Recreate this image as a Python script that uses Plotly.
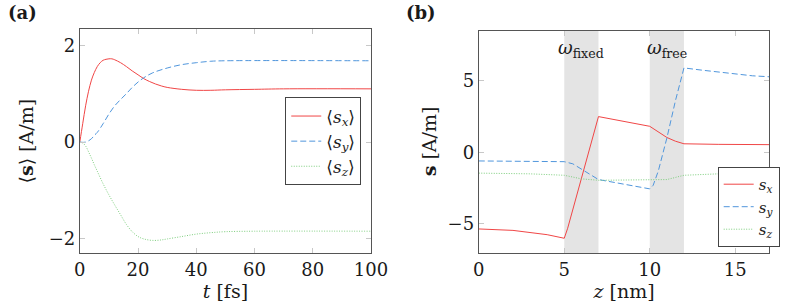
import plotly.graph_objects as go

# ---- panel (a): time evolution ----
t_x = [0, 1, 2, 3, 4, 5, 6, 7, 8, 9, 10, 11, 12, 14, 16, 18, 20, 22, 24, 26, 28, 30, 35, 40, 45, 50, 60, 70, 100]
sx_t = [0, 0.38, 0.75, 1.05, 1.28, 1.44, 1.56, 1.64, 1.69, 1.71, 1.72, 1.72, 1.70, 1.64, 1.56, 1.47, 1.39, 1.31,
        1.25, 1.20, 1.16, 1.13, 1.09, 1.07, 1.07, 1.08, 1.09, 1.10, 1.10]
t_y = [0, 2, 4, 5, 6, 8, 10, 12, 14, 16, 18, 20, 22, 25, 30, 35, 40, 45, 50, 100]
sy_t = [0, 0.0, 0.07, 0.14, 0.20, 0.38, 0.58, 0.75, 0.88, 1.00, 1.13, 1.24, 1.33, 1.43, 1.53, 1.60, 1.64, 1.67, 1.68, 1.68]
t_z = [0, 1, 2, 3, 4, 5, 6, 8, 10, 12, 14, 16, 18, 20, 22, 25, 28, 30, 35, 40, 45, 50, 60, 100]
sz_t = [0, -0.02, -0.08, -0.20, -0.33, -0.47, -0.60, -0.86, -1.09, -1.30, -1.50, -1.70, -1.85, -1.95, -2.00,
        -2.03, -2.02, -2.00, -1.95, -1.90, -1.87, -1.85, -1.84, -1.84]

# ---- panel (b): spatial profile ----
z_x = [0, 2, 4, 5, 5.2, 5.5, 6, 6.5, 7, 10, 10.5, 11, 11.5, 12, 14, 17]
sx_z = [-5.35, -5.45, -5.75, -6.0, -5.3, -4.0, -1.8, 0.4, 2.5, 1.82, 1.4, 1.04, 0.78, 0.6, 0.56, 0.54]
z_y = [0, 3, 5, 5.5, 6, 6.5, 7, 10, 10.2, 10.5, 11, 11.5, 12, 13, 14, 15, 16, 17]
sy_z = [-0.6, -0.62, -0.65, -0.8, -1.15, -1.55, -1.9, -2.55, -2.3, -1.3, 1.0, 3.6, 5.9, 5.75, 5.6, 5.45, 5.35, 5.28]
z_z = [0, 3, 5, 6, 7, 9, 10, 11, 11.5, 12, 14, 17]
sz_z = [-1.45, -1.5, -1.6, -1.85, -1.95, -1.95, -1.95, -1.9, -1.75, -1.6, -1.5, -1.45]

regions = [(5, 7), (10, 12)]
region_labels = ["<i>ω</i><sub>fixed</sub>", "<i>ω</i><sub>free</sub>"]

RED = "rgb(240,70,70)"
BLUE = "rgb(80,150,220)"
GREEN = "rgb(125,205,125)"
FONT = "DejaVu Serif"
TXT = "#1a1a1a"

fig = go.Figure()
fig.add_trace(go.Scatter(x=t_x, y=sx_t, mode="lines", line=dict(color=RED, width=1, shape="spline"),
                         name="⟨<i>s</i><sub><i>x</i></sub>⟩", xaxis="x", yaxis="y", legend="legend"))
fig.add_trace(go.Scatter(x=t_y, y=sy_t, mode="lines", line=dict(color=BLUE, width=1, dash="6px,3px", shape="spline"),
                         name="⟨<i>s</i><sub><i>y</i></sub>⟩", xaxis="x", yaxis="y", legend="legend"))
fig.add_trace(go.Scatter(x=t_z, y=sz_t, mode="lines", line=dict(color=GREEN, width=1, dash="1px,1.5px", shape="spline"),
                         name="⟨<i>s</i><sub><i>z</i></sub>⟩", xaxis="x", yaxis="y", legend="legend"))

fig.add_trace(go.Scatter(x=z_x, y=sx_z, mode="lines", line=dict(color=RED, width=1),
                         name="<i>s</i><sub><i>x</i></sub>", xaxis="x2", yaxis="y2", legend="legend2"))
fig.add_trace(go.Scatter(x=z_y, y=sy_z, mode="lines", line=dict(color=BLUE, width=1, dash="6px,3px"),
                         name="<i>s</i><sub><i>y</i></sub>", xaxis="x2", yaxis="y2", legend="legend2"))
fig.add_trace(go.Scatter(x=z_z, y=sz_z, mode="lines", line=dict(color=GREEN, width=1, dash="1px,1.5px"),
                         name="<i>s</i><sub><i>z</i></sub>", xaxis="x2", yaxis="y2", legend="legend2"))

for (a, b), lab in zip(regions, region_labels):
    fig.add_shape(type="rect", xref="x2", yref="y2 domain", x0=a, x1=b, y0=0, y1=1,
                  fillcolor="#e4e4e4", line=dict(width=0), layer="below")
    fig.add_annotation(x=(a + b) / 2, y=7.2, xref="x2", yref="y2", text=lab, showarrow=False,
                       font=dict(family=FONT, size=18, color=TXT))

axis_common = dict(showgrid=False, zeroline=False, showline=True, linecolor="#555", linewidth=1,
                   mirror="allticks", ticks="inside", ticklen=5, tickcolor="#c8c8c8", tickwidth=1,
                   tickfont=dict(family=FONT, size=18, color=TXT))

fig.update_layout(
    width=787, height=306, margin=dict(l=0, r=0, t=0, b=0),
    plot_bgcolor="white", paper_bgcolor="white",
    font=dict(family=FONT, size=18, color=TXT),
    xaxis=dict(domain=[0.0966, 0.4778], range=[0, 100], tickvals=[0, 20, 40, 60, 80, 100], anchor="y",
               title=dict(text="<i>t</i> [fs]", standoff=4, font=dict(size=19)), **axis_common),
    yaxis=dict(domain=[0.1732, 0.9043], range=[-2.29, 2.33], tickvals=[-2, 0, 2], anchor="x", **axis_common),
    xaxis2=dict(domain=[0.6188, 0.9993], range=[0, 17], tickvals=[0, 5, 10, 15], anchor="y2",
                title=dict(text="<i>z</i> [nm]", standoff=4, font=dict(size=19)), **axis_common),
    yaxis2=dict(domain=[0.1732, 0.8997], range=[-7.03, 8.5], tickvals=[-5, 0, 5], anchor="x2", **axis_common),
    legend=dict(x=0.465, y=0.5376, xanchor="right", yanchor="middle", bgcolor="white",
                bordercolor="#444", borderwidth=1, font=dict(family=FONT, size=17)),
    legend2=dict(x=1.0127, y=0.193, xanchor="right", yanchor="bottom", bgcolor="white",
                 bordercolor="#444", borderwidth=1, font=dict(family=FONT, size=15)),
    showlegend=True,
)

# y-axis titles
fig.add_annotation(x=21 / 787, y=0.539, xref="paper", yref="paper", xanchor="center", yanchor="middle",
                   textangle=-90, text="⟨<b>s</b>⟩ [A/m]", showarrow=False, font=dict(family=FONT, size=19, color=TXT))
fig.add_annotation(x=436 / 787, y=0.539, xref="paper", yref="paper", xanchor="center", yanchor="middle",
                   textangle=-90, text="<b>s</b> [A/m]", showarrow=False, font=dict(family=FONT, size=19, color=TXT))

fig.add_annotation(x=0, y=1.0, xref="paper", yref="paper", xanchor="left", yanchor="top",
                   text="<b>(a)</b>", showarrow=False, font=dict(family=FONT, size=18, color=TXT))
fig.add_annotation(x=410 / 787, y=1.0, xref="paper", yref="paper", xanchor="left", yanchor="top",
                   text="<b>(b)</b>", showarrow=False, font=dict(family=FONT, size=18, color=TXT))

fig.write_html("out.html")
